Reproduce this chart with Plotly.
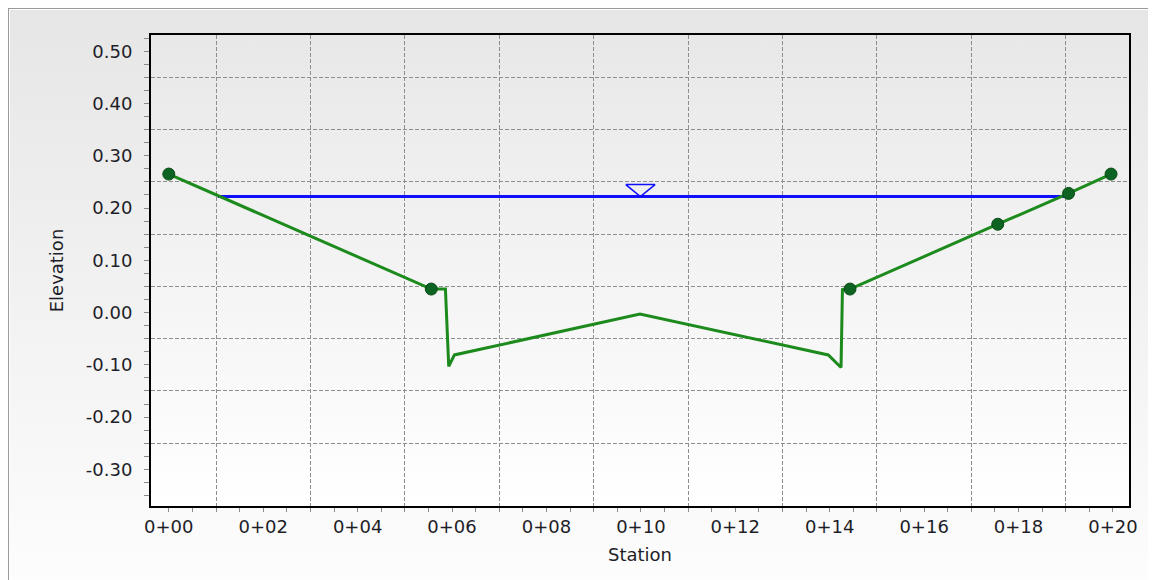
import base64
import plotly.graph_objects as go

# ---------------- data ----------------
ground_sta = [0.0, 5.56, 5.86, 5.93, 6.05, 9.98, 13.97, 14.24, 14.27, 14.43, 17.56, 19.06, 19.96]
ground_elev = [0.265, 0.045, 0.045, -0.103, -0.081, -0.003, -0.081, -0.105, 0.044, 0.045, 0.169, 0.228, 0.265]

point_sta = [0.0, 5.56, 14.43, 17.56, 19.06, 19.96]
point_elev = [0.265, 0.045, 0.045, 0.169, 0.228, 0.265]

water_sta = [1.04, 19.0]
water_elev = 0.222
water_mark_sta = 9.99

x_tick_vals = [0, 2, 4, 6, 8, 10, 12, 14, 16, 18, 20]
x_tick_text = ["0+00", "0+02", "0+04", "0+06", "0+08", "0+10", "0+12", "0+14", "0+16", "0+18", "0+20"]
y_tick_vals = [-0.3, -0.2, -0.1, 0.0, 0.1, 0.2, 0.3, 0.4, 0.5]
y_tick_text = ["-0.30", "-0.20", "-0.10", "0.00", "0.10", "0.20", "0.30", "0.40", "0.50"]
x_grid_vals = [1, 3, 5, 7, 9, 11, 13, 15, 17, 19]
y_grid_vals = [-0.25, -0.15, -0.05, 0.05, 0.15, 0.25, 0.35, 0.45]

# ---------------- layout constants ----------------
W, H = 1156, 580
ML, MR, MT, MB = 143, 35, 27, 82
PW, PH = W - ML - MR, H - MT - MB
FONT = "DejaVu Sans"
FS = 18
TXT = "#1e1e28"
GREEN = "#1c8a1c"
DKGREEN = "#0d6322"
BLUE = "#1010ff"
GRID = "#8e8e8e"


def svg_uri(svg):
    return "data:image/svg+xml;base64," + base64.b64encode(svg.encode()).decode()


outer_svg = (
    '<svg xmlns="http://www.w3.org/2000/svg" width="%d" height="%d" preserveAspectRatio="none">'
    '<defs><linearGradient id="g" x1="0" y1="0" x2="0" y2="1">'
    '<stop offset="0" stop-color="#e6e6e6"/><stop offset="1" stop-color="#fdfdfd"/>'
    '</linearGradient></defs>'
    '<rect x="0" y="0" width="%d" height="%d" fill="url(#g)"/>'
    '<rect x="0.5" y="0.5" width="%d" height="%d" fill="none" stroke="#9a9a9a" stroke-width="1"/>'
    '<rect x="1.5" y="1.5" width="%d" height="%d" fill="none" stroke="#ffffff" stroke-width="1"/>'
    '</svg>' % (W, H, W, H, W - 1, H - 1, W - 3, H - 3)
)
inner_svg = (
    '<svg xmlns="http://www.w3.org/2000/svg" width="%d" height="%d" preserveAspectRatio="none">'
    '<defs><linearGradient id="g" x1="0" y1="0" x2="0" y2="1">'
    '<stop offset="0" stop-color="#e8e8e8"/><stop offset="1" stop-color="#ffffff"/>'
    '</linearGradient></defs>'
    '<rect x="0" y="0" width="%d" height="%d" fill="url(#g)"/></svg>' % (PW, PH, PW, PH)
)

fig = go.Figure()

# water surface
fig.add_trace(go.Scatter(
    x=water_sta, y=[water_elev] * len(water_sta), mode="lines",
    line=dict(color=BLUE, width=3), hoverinfo="skip", showlegend=False))

# water surface symbol (inverted triangle sitting on the water line)
tri_hw, tri_h = 0.31, 0.023
fig.add_trace(go.Scatter(
    x=[water_mark_sta - tri_hw, water_mark_sta + tri_hw, water_mark_sta, water_mark_sta - tri_hw],
    y=[water_elev + tri_h, water_elev + tri_h, water_elev, water_elev + tri_h],
    mode="lines", line=dict(color=BLUE, width=1.6), hoverinfo="skip", showlegend=False))

# ground profile
fig.add_trace(go.Scatter(
    x=ground_sta, y=ground_elev, mode="lines",
    line=dict(color=GREEN, width=3), showlegend=False))

# survey points
fig.add_trace(go.Scatter(
    x=point_sta, y=point_elev, mode="markers",
    marker=dict(color=DKGREEN, size=12, line=dict(color="#0a4a14", width=1)),
    showlegend=False))

# invisible trace to hold grid axes
fig.add_trace(go.Scatter(x=[0], y=[0], xaxis="x2", yaxis="y2", mode="markers",
                         marker=dict(opacity=0), hoverinfo="skip", showlegend=False))

XR = [-0.377, 20.34]
YR = [-0.370, 0.531]

fig.update_layout(
    width=W, height=H,
    margin=dict(l=ML, r=MR, t=MT, b=MB, autoexpand=False),
    paper_bgcolor="#f0f0f0",
    plot_bgcolor="rgba(0,0,0,0)",
    font=dict(family=FONT, size=FS, color=TXT),
    xaxis=dict(
        range=XR, tickmode="array", tickvals=x_tick_vals, ticktext=x_tick_text,
        showgrid=False, zeroline=False, showline=True, linecolor="#000000", linewidth=2,
        mirror=True, ticks="outside", ticklen=4, tickcolor="#8a8a8a", automargin=False,
        minor=dict(dtick=0.5, tick0=0, ticks="outside", ticklen=4, tickcolor="#8a8a8a", showgrid=False),
        title=dict(text="Station", standoff=13, font=dict(size=FS, color=TXT)),
        tickfont=dict(size=FS, color=TXT), ticklabelstandoff=-1,
    ),
    yaxis=dict(
        range=YR, tickmode="array", tickvals=y_tick_vals, ticktext=y_tick_text,
        showgrid=False, zeroline=False, showline=True, linecolor="#000000", linewidth=2,
        mirror=True, ticks="outside", ticklen=5, tickcolor="#8a8a8a", automargin=False,
        minor=dict(dtick=0.025, tick0=0, ticks="outside", ticklen=5, tickcolor="#8a8a8a", showgrid=False),
        title=dict(text="Elevation", standoff=18, font=dict(size=FS, color=TXT)),
        tickfont=dict(size=FS, color=TXT), ticklabelstandoff=8,
    ),
    xaxis2=dict(
        overlaying="x", range=XR, tickmode="array", tickvals=x_grid_vals, showticklabels=False,
        ticks="", showgrid=True, gridcolor=GRID, gridwidth=1, griddash="4px,2px",
        zeroline=False, showline=False, side="top",
    ),
    yaxis2=dict(
        overlaying="y", range=YR, tickmode="array", tickvals=y_grid_vals, showticklabels=False,
        ticks="", showgrid=True, gridcolor=GRID, gridwidth=1, griddash="4px,2px",
        zeroline=False, showline=False, side="right",
    ),
    images=[
        dict(source=svg_uri(outer_svg), xref="paper", yref="paper",
             x=-ML / PW, y=1 + MT / PH, sizex=W / PW, sizey=H / PH,
             sizing="stretch", layer="below", xanchor="left", yanchor="top"),
        dict(source=svg_uri(inner_svg), xref="paper", yref="paper",
             x=0, y=1, sizex=1, sizey=1,
             sizing="stretch", layer="below", xanchor="left", yanchor="top"),
    ],
)

fig.write_html("out.html")
